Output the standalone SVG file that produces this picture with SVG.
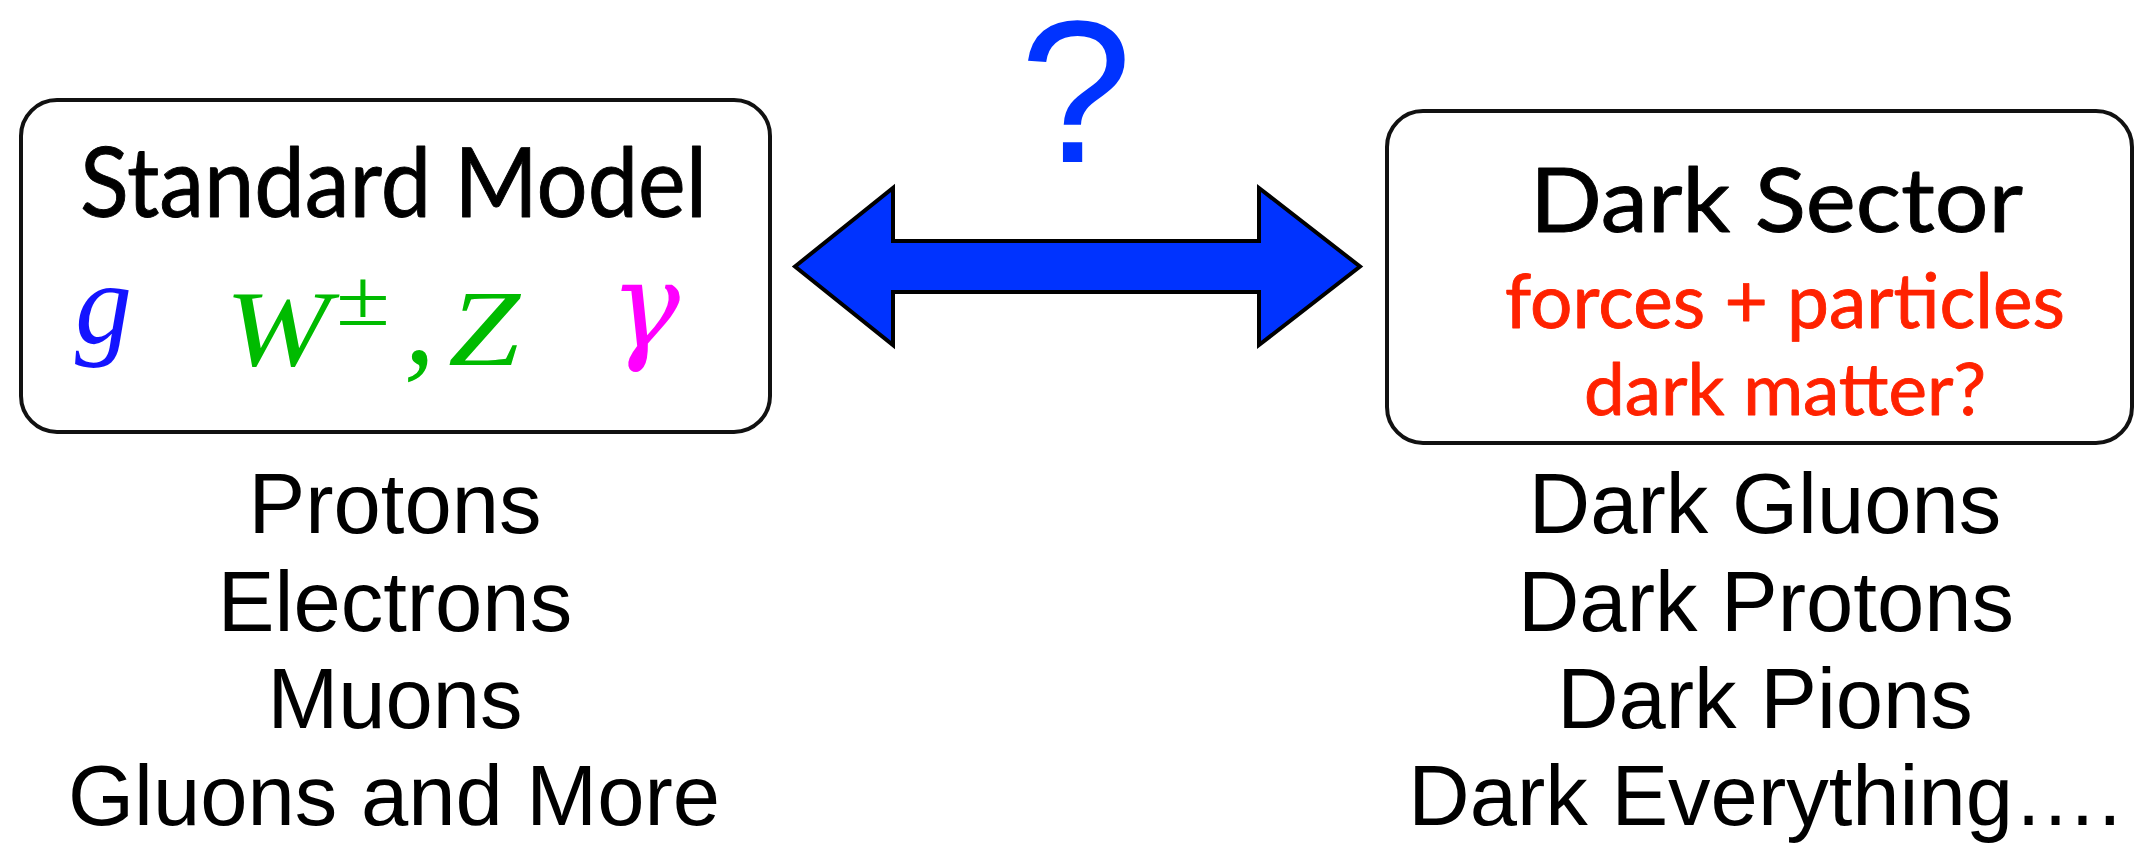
<svg xmlns="http://www.w3.org/2000/svg" width="2138" height="844" viewBox="0 0 2138 844">
<style>
.box{fill:#fff;stroke:#111;stroke-width:4}
.gill{font-family:Lato,"Open Sans",sans-serif;stroke-width:0.9;stroke-linejoin:round}
.list{font-family:"Liberation Sans",Arial,sans-serif;font-size:85px;fill:#000;text-anchor:middle}
.math{font-family:"Liberation Serif","Times New Roman",serif;font-style:italic}
</style>
<rect width="2138" height="844" fill="#fff"/>
<g id="standard-model">
<rect class="box" x="21" y="100" width="749" height="332" rx="36"/>
<text class="gill" x="80" y="217" font-size="96" fill="#000" stroke="#000" textLength="627" lengthAdjust="spacingAndGlyphs">Standard Model</text>
<text class="math" x="75" y="343" font-size="116" fill="#1414ff" textLength="57" lengthAdjust="spacingAndGlyphs">g</text>
<text class="math" x="225" y="365" font-size="108" fill="#00bb00" textLength="105" lengthAdjust="spacingAndGlyphs">W</text>
<text x="336" y="325" font-size="80" fill="#00bb00" font-family="Liberation Serif,serif" textLength="54" lengthAdjust="spacingAndGlyphs">±</text>
<text x="404" y="363" font-size="125" fill="#00bb00" font-family="Liberation Serif,serif" font-style="italic">,</text>
<text class="math" x="448" y="365" font-size="108" fill="#00bb00" textLength="72" lengthAdjust="spacingAndGlyphs">Z</text>
<text x="610" y="347" font-size="120" fill="#ff00ff" font-family="DejaVu Serif,serif" font-style="italic" textLength="70" lengthAdjust="spacingAndGlyphs">γ</text>
</g>
<g id="dark-sector">
<rect class="box" x="1387" y="111" width="745" height="332" rx="36"/>
<text class="gill" x="1530" y="232" font-size="89" fill="#000" stroke="#000" textLength="493" lengthAdjust="spacingAndGlyphs">Dark Sector</text>
<text class="gill" x="1505" y="328" font-size="75" fill="#ff2200" stroke="#ff2200" textLength="560" lengthAdjust="spacingAndGlyphs">forces + particles</text>
<text class="gill" x="1584" y="415" font-size="72" fill="#ff2200" stroke="#ff2200" textLength="402" lengthAdjust="spacingAndGlyphs">dark matter?</text>
</g>
<g id="connectors">
<polygon points="795,266.5 893,188 893,241 1259,241 1259,188 1360,266.5 1259,345 1259,292 893,292 893,345" fill="#0033ff" stroke="#000" stroke-width="4" stroke-linejoin="miter"/>
<text x="1076" y="162" font-family="Liberation Sans,Arial,sans-serif" font-size="202" fill="#0033ff" text-anchor="middle">?</text>
</g>
<g id="sm-list">
<text class="list" x="395" y="533">Protons</text>
<text class="list" x="395" y="631">Electrons</text>
<text class="list" x="395" y="728">Muons</text>
<text class="list" x="394" y="825">Gluons and More</text>
</g>
<g id="ds-list">
<text class="list" x="1765" y="533">Dark Gluons</text>
<text class="list" x="1766" y="631">Dark Protons</text>
<text class="list" x="1765" y="728">Dark Pions</text>
<text class="list" x="1765" y="825">Dark Everything….</text>
</g>
</svg>
